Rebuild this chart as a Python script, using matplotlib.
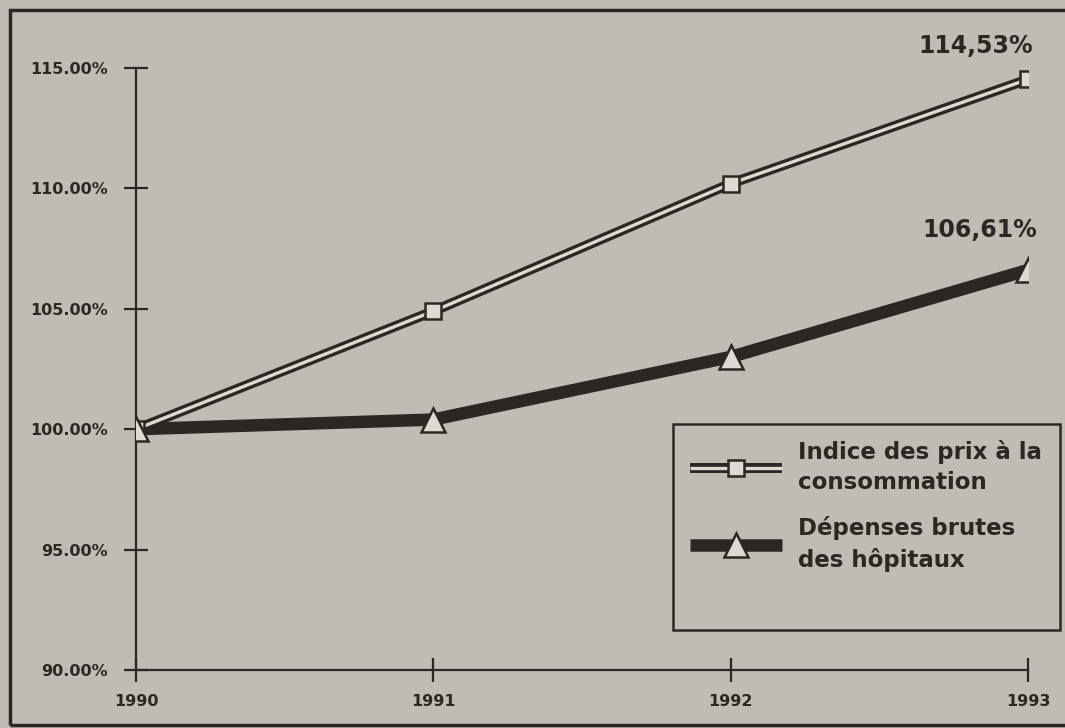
import matplotlib.pyplot as plt
from matplotlib.lines import Line2D
from matplotlib.patches import Rectangle
from matplotlib.legend_handler import HandlerTuple

# donnees
annees = [1990, 1991, 1992, 1993]
indice_prix = [100.0, 104.9, 110.2, 114.53]
depenses_hop = [100.0, 100.4, 103.0, 106.61]
yticks = [90, 95, 100, 105, 110, 115]
ylabels = ["90.00%", "95.00%", "100.00%", "105.00%", "110.00%", "115.00%"]
etiquettes_fin = ["114,53%", "106,61%"]
noms = ["Indice des prix à la\nconsommation", "Dépenses brutes\ndes hôpitaux"]

fond = "#c0bcb4"
encre = "#2b2724"
clair = "#dedad2"

plt.rcParams['font.family'] = ['DejaVu Sans']
plt.rcParams['font.weight'] = 'bold'

fig = plt.figure(figsize=(10.65, 7.28), dpi=100, facecolor=fond)
ax = fig.add_axes([136 / 1065, 1 - 670 / 728, (1028 - 136) / 1065, (670 - 68) / 728])
ax.set_facecolor(fond)

# indice des prix : double trait
ax.plot(annees, indice_prix, color=encre, lw=7.2, solid_capstyle='butt', zorder=3)
ax.plot(annees, indice_prix, color=clair, lw=2.4, solid_capstyle='butt', zorder=4)
ax.plot(annees, indice_prix, ls='none', marker='s', ms=11, mfc=clair, mec=encre, mew=1.8, zorder=5)

# depenses des hopitaux : trait epais
ax.plot(annees, depenses_hop, color=encre, lw=9, solid_capstyle='butt', zorder=2)
ax.plot(annees, depenses_hop, ls='none', marker='^', ms=17, mfc=clair, mec=encre, mew=1.8, zorder=5)

ax.annotate(etiquettes_fin[0], (annees[-1], indice_prix[-1]), xytext=(-38, 15),
            textcoords='offset points', ha='center', va='bottom', fontsize=17,
            fontweight='bold', color=encre, annotation_clip=False)
ax.annotate(etiquettes_fin[1], (annees[-1], depenses_hop[-1]), xytext=(-35, 20),
            textcoords='offset points', ha='center', va='bottom', fontsize=17,
            fontweight='bold', color=encre, annotation_clip=False)

ax.set_xlim(1990, 1993)
ax.set_ylim(90, 115)
ax.set_xticks(annees)
ax.set_xticklabels([str(a) for a in annees])
ax.set_yticks(yticks)
ax.set_yticklabels(ylabels)
ax.tick_params(axis='both', direction='inout', length=17, width=1.6, color=encre,
               labelcolor=encre, labelsize=11.5)
ax.tick_params(axis='y', pad=12)
ax.tick_params(axis='x', pad=9)
for sp in ['top', 'right']:
    ax.spines[sp].set_visible(False)
for sp in ['left', 'bottom']:
    ax.spines[sp].set_color(encre)
    ax.spines[sp].set_linewidth(1.6)
ax.spines['left'].set_bounds(90, 115)

# legende dans son cadre
fig.patches.append(Rectangle((673 / 1065, 1 - 630 / 728), (1060 - 673) / 1065, (630 - 424) / 728,
                             transform=fig.transFigure, fill=False, ec=encre, lw=1.8, zorder=1))
h1 = (Line2D([], [], color=encre, lw=7.2, solid_capstyle='butt'),
      Line2D([], [], color=clair, lw=2.4, solid_capstyle='butt'),
      Line2D([], [], ls='none', marker='s', ms=11, mfc=clair, mec=encre, mew=1.8))
h2 = (Line2D([], [], color=encre, lw=9, solid_capstyle='butt'),
      Line2D([], [], ls='none', marker='^', ms=17, mfc=clair, mec=encre, mew=1.8))
leg = fig.legend([h1, h2], noms, handler_map={tuple: HandlerTuple(ndivide=1, pad=0)},
                 loc='upper left', bbox_to_anchor=(690 / 1065, 1 - 440 / 728),
                 frameon=False, fontsize=16.5, handlelength=4.0, handletextpad=0.7,
                 labelspacing=0.95, borderpad=0, borderaxespad=0)
for t in leg.get_texts():
    t.set_color(encre)
    t.set_fontweight('bold')
    t.set_linespacing(1.4)

# cadre de la page
fig.patches.append(Rectangle((10 / 1065, 1 - 725 / 728), 1.2, (725 - 10) / 728,
                             transform=fig.transFigure, fill=False, ec=encre, lw=2.5))

fig.savefig("out.png", dpi=100, facecolor=fond)
